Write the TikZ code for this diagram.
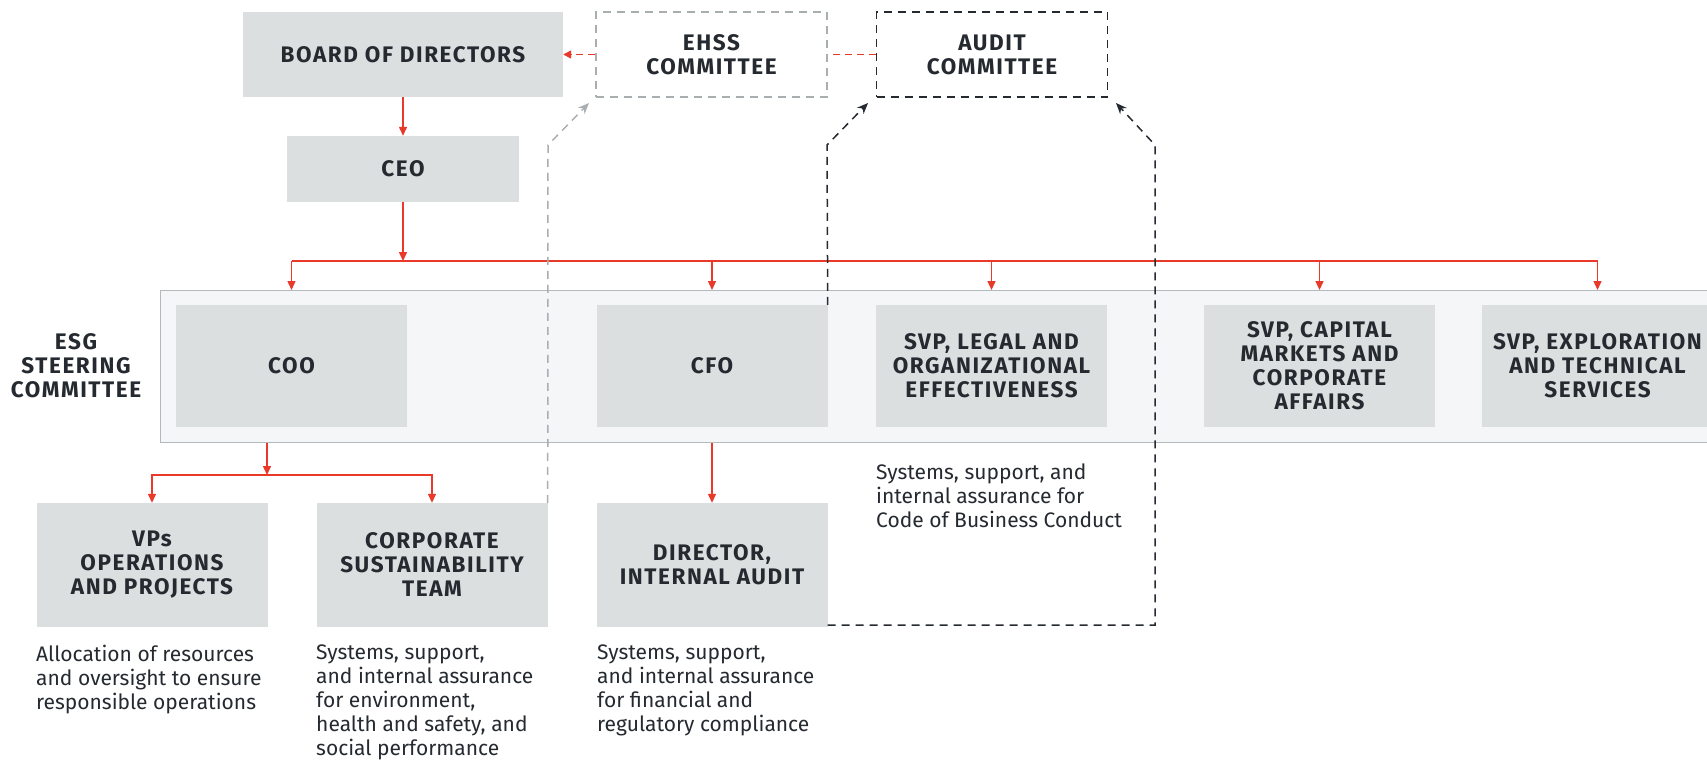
\documentclass[tikz,border=0pt]{standalone}
\usepackage{fontspec}
\setmainfont{Fira Sans}
\newfontfamily\capsfamily[LetterSpace=7]{Fira Sans}
\usetikzlibrary{arrows.meta}

\definecolor{boxgray}{HTML}{DCDFE0}
\definecolor{bandgray}{HTML}{F5F6F8}
\definecolor{bandline}{HTML}{B3B9BC}
\definecolor{ink}{HTML}{252A30}
\definecolor{accent}{HTML}{E8392B}
\definecolor{lightdash}{HTML}{A9AEB1}

\newcommand\caplabel{\capsfamily\bfseries\fontsize{22.5}{24}\selectfont}
\newcommand\notetext{\fontsize{21}{24}\selectfont}

\tikzset{
  box/.style={fill=boxgray, inner sep=0pt, align=center, text=ink, font=\caplabel},
  rowbox/.style={box, minimum width=231pt, minimum height=122pt},
  lowbox/.style={box, minimum width=231pt, minimum height=124pt},
  committee/.style={box, fill=white, line width=1.6pt, dash pattern=on 8pt off 6pt,
    minimum width=231pt, minimum height=85pt},
  note/.style={anchor=north west, align=left, inner sep=0pt, text=ink, font=\notetext},
  redline/.style={draw=accent, line width=1.4pt},
  redarrow/.style={redline, -{Triangle[width=8pt,length=9pt]}},
  reddash/.style={redline, line width=1.6pt, dash pattern=on 7pt off 5pt},
  assure/.style={line width=1.5pt, dash pattern=on 8pt off 6pt,
    -{Stealth[width=9pt,length=11pt]}},
}

\begin{document}
\begin{tikzpicture}[x=1pt,y=-1pt]
\useasboundingbox (0,0) rectangle (1707,761);
\clip (0,0) rectangle (1707,761);
\fill[white] (0,0) rectangle (1707,761);

% steering committee band
\node[draw=bandline, fill=bandgray, line width=1.4pt, anchor=north west,
      minimum width=1600pt, minimum height=152pt, inner sep=0pt] (band) at (160,290) {};
\node[font=\caplabel, text=ink, align=center] (esg) at (76,366) {ESG\\STEERING\\COMMITTEE};

% top of the structure
\node[box, minimum width=320pt, minimum height=85pt] (board) at (403,54.5) {BOARD OF DIRECTORS};
\node[committee, draw=lightdash] (ehss) at (711.5,54.5) {EHSS\\COMMITTEE};
\node[committee, draw=ink] (audit) at (992,54.5) {AUDIT\\COMMITTEE};
\node[box, minimum width=232pt, minimum height=66pt] (ceo) at (403,169) {CEO};

% steering committee members
\node[rowbox] (coo) at (291.5,366) {COO};
\node[rowbox] (cfo) at (712,366) {CFO};
\node[rowbox] (legal) at (991.5,366) {SVP, LEGAL AND\\ORGANIZATIONAL\\EFFECTIVENESS};
\node[rowbox] (capital) at (1319.5,366) {SVP, CAPITAL\\MARKETS AND\\CORPORATE\\AFFAIRS};
\node[rowbox] (explor) at (1597.5,366) {SVP, EXPLORATION\\AND TECHNICAL\\SERVICES};

% reporting teams
\node[lowbox] (vps) at (152,565) {VPs\\OPERATIONS\\AND PROJECTS};
\node[lowbox] (corp) at (432,565) {CORPORATE\\SUSTAINABILITY\\TEAM};
\node[lowbox] (dir) at (712,565) {DIRECTOR,\\INTERNAL AUDIT};

% descriptions
\node[note] (vpsnote) at (36,645) {Allocation of resources\\and oversight to ensure\\responsible operations};
\node[note] (corpnote) at (316,645) {Systems, support,\\and internal assurance\\for environment,\\health and safety, and\\social performance};
\node[note] (dirnote) at (597,645) {Systems, support,\\and internal assurance\\for financial and\\regulatory compliance};
\node[note] (legalnote) at (876,464) {Systems, support, and\\internal assurance for\\Code of Business Conduct};

% committee links
\draw[reddash, -{Triangle[width=8pt,length=8pt]}] (ehss.west) -- (board.east);
\draw[reddash] (audit.west) -- (ehss.east);

% line of authority
\coordinate (bus) at (403,261);
\coordinate (busL) at (291.5,261);
\coordinate (busR) at (1597.5,261);
\draw[redarrow] (board) -- (ceo);
\draw[redarrow] (ceo) -- (bus);
\draw[redline] (busL) -- (busR);
\foreach \n in {coo,cfo,legal,capital,explor}
  \draw[redarrow] (busL -| \n) -- (band.north -| \n);

\coordinate (split) at (267,475);
\draw[redarrow] (band.south -| split) -- (split);
\draw[redline, -{Triangle[width=8pt,length=9pt]}] (split) -| (vps.north);
\draw[redline, -{Triangle[width=8pt,length=9pt]}] (split) -| (corp.north);
\draw[redarrow] (band.south -| cfo) -- (dir);

% assurance lines to the board committees
\coordinate (g1) at (548,145);
\coordinate (g2) at (589,103);
\draw[assure, draw=lightdash] (corp.north east) -- (g1) -- (g2);
\coordinate (d1) at (827,145);
\coordinate (d2) at (868,103);
\draw[assure, draw=ink] (cfo.north east) -- (d1) -- (d2);
\coordinate (r0) at (1155,625);
\coordinate (r1) at (1155,145);
\coordinate (r2) at (1116,103);
\draw[assure, draw=ink] (dir.south east |- r0) -- (r0) -- (r1) -- (r2);
\end{tikzpicture}
\end{document}
